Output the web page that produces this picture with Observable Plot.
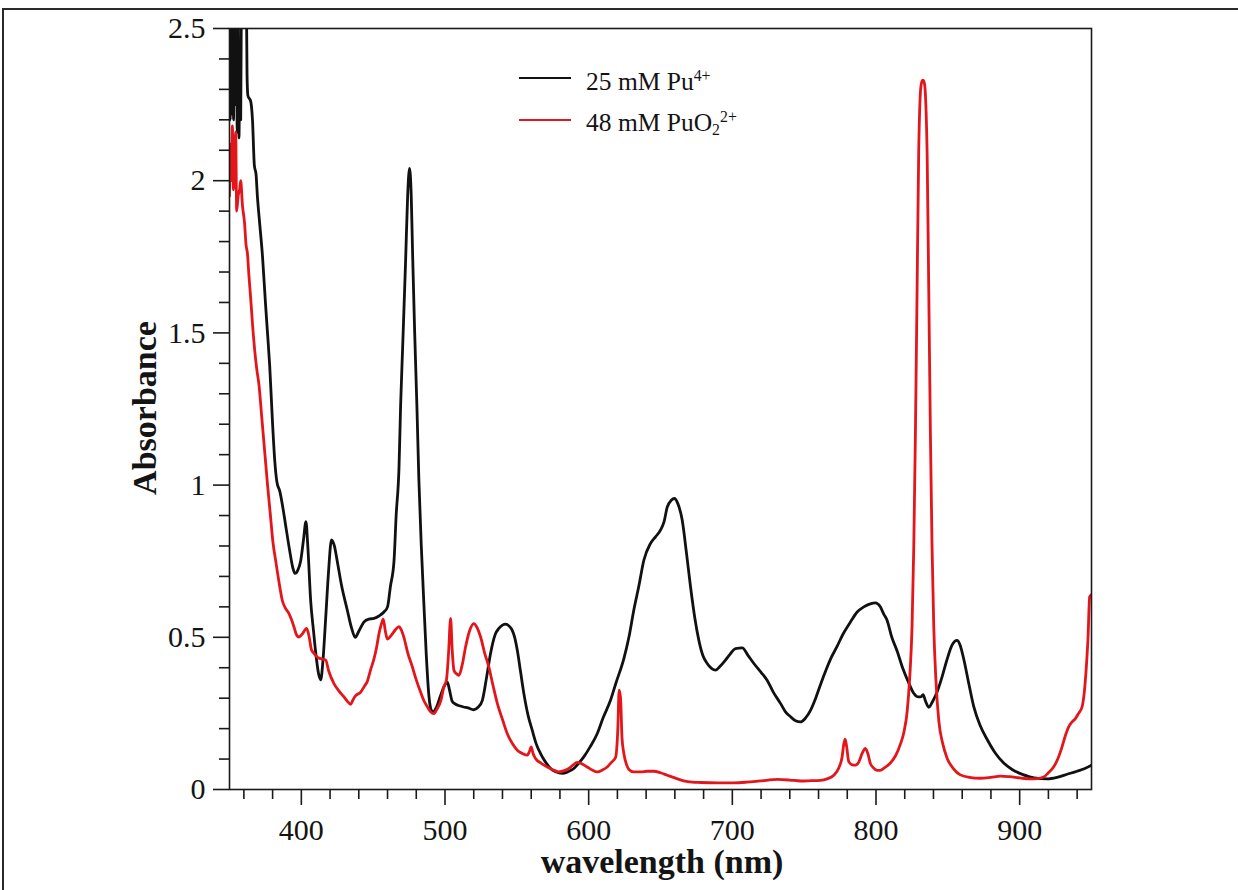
<!DOCTYPE html>
<html>
<head>
<meta charset="utf-8">
<script src="https://cdn.jsdelivr.net/npm/d3@7"></script>
<script src="https://cdn.jsdelivr.net/npm/@observablehq/plot@0.6"></script>
<style>
  html, body { margin: 0; padding: 0; background: #fff; overflow: hidden; }
  #wrap { position: relative; width: 1238px; height: 890px; overflow: hidden; }
  #border { position: absolute; left: 2px; top: 8px; width: 1240px; height: 890px;
            border-top: 2px solid #2a2a2a; border-left: 2px solid #2a2a2a; box-sizing: border-box; }
  #chart { position: absolute; left: 0; top: 0; }
  .serif { font-family: "Liberation Serif", "Times New Roman", serif; color: #141414; }
  .ttl { position: absolute; font-weight: bold; font-size: 34px; line-height: 1; white-space: nowrap; }
  .leg { position: absolute; font-size: 25.5px; line-height: 1; white-space: nowrap; }
  .leg sup { font-size: 0.62em; vertical-align: 0.55em; line-height: 0; }
  .leg sub { font-size: 0.62em; vertical-align: -0.28em; line-height: 0; }
  .sw { position: absolute; height: 2.6px; width: 52px; }
</style>
</head>
<body>
<div id="wrap">
  <div id="border"></div>
  <div id="chart"></div>
</div>
<script>
// ---- data ----
const seriesNames = ["25 mM Pu4+", "48 mM PuO2 2+"];

const puNm = [350,350.5,351,351.6,352.2,352.8,353.3,354,354.6,355.4,356,356.6,357.2,357.8,358.4,360,361.6,362.2,362.8,364.8,366,367.3,368.5,369.4,371,373,375,376.6,378,380,381.5,383,385,387,389,391.7,394,395.5,397.5,399.5,401.5,403.2,404.5,406.5,408.5,410,412,413.5,415,417,419,421,423,425,428,432,435,437.5,440,443.5,447,450.5,454,457.5,460,462,464.5,466,468,469.1,470.5,472.6,474,475.3,476.5,477.5,478.9,480.5,481.8,483.5,485.3,487,488.8,490.5,492,494,497,499.5,501.6,503,505,507.4,510,513,516,520,523,526,529,531.7,535,537.5,540,542.2,545,546.8,548.5,550.3,552.5,554.9,558,560.7,563.5,566.5,570,573.5,577,581.6,585.5,589.7,593,596.6,601,606,610,615.2,619,624.5,628,631.4,635,638.4,643,646.5,650,652.5,654.7,657.5,659.7,662,665.1,668,670.9,674,676.7,679.5,682.5,685.5,688.3,691.5,695.2,698.5,702.2,706.9,711,715,720,724.2,728.5,733.5,737,740.5,744,747.5,751,754.4,758,761.4,765,768.5,772.9,777,782.2,786.9,791.5,796,799.6,803,805.4,807.7,811,814.7,818.5,822.8,826,829.7,831.5,832.8,834.5,836.7,839.5,842.5,846,849.5,853,856.4,858.5,861.1,864.5,868,872.5,877.3,883,888.9,895,902.8,910,919,926,933,940,945,950];
const puAbs = [2.6,2.2,2.65,2.22,2.6,2.2,2.7,2.25,2.6,2.16,2.55,2.14,2.45,2.2,2.7,2.9,2.7,2.35,2.28,2.26,2.2,2.05,2.02,1.95,1.86,1.75,1.6,1.49,1.39,1.2,1.08,1.01,0.98,0.93,0.87,0.79,0.73,0.71,0.72,0.75,0.82,0.88,0.8,0.62,0.52,0.45,0.38,0.36,0.42,0.567,0.72,0.82,0.8,0.75,0.67,0.589,0.53,0.5,0.52,0.55,0.56,0.562,0.57,0.583,0.6,0.667,0.75,0.9,1.06,1.26,1.45,1.74,1.95,2.04,1.95,1.75,1.5,1.25,1.02,0.8,0.61,0.44,0.308,0.26,0.255,0.27,0.31,0.34,0.353,0.33,0.29,0.28,0.275,0.271,0.268,0.262,0.27,0.293,0.37,0.447,0.51,0.529,0.54,0.543,0.535,0.523,0.5,0.458,0.39,0.315,0.24,0.195,0.15,0.118,0.09,0.069,0.058,0.053,0.058,0.069,0.086,0.107,0.14,0.184,0.235,0.293,0.35,0.43,0.5,0.589,0.67,0.753,0.808,0.83,0.852,0.88,0.928,0.95,0.956,0.94,0.885,0.78,0.666,0.56,0.49,0.44,0.414,0.398,0.392,0.405,0.425,0.445,0.463,0.465,0.44,0.414,0.385,0.359,0.32,0.283,0.255,0.239,0.226,0.222,0.235,0.26,0.3,0.345,0.39,0.43,0.47,0.51,0.55,0.583,0.6,0.61,0.613,0.6,0.576,0.556,0.5,0.455,0.4,0.35,0.318,0.304,0.305,0.312,0.29,0.27,0.29,0.32,0.37,0.428,0.475,0.49,0.475,0.428,0.35,0.273,0.21,0.165,0.12,0.087,0.065,0.048,0.038,0.035,0.04,0.05,0.06,0.068,0.08];

const puo2Nm = [350,350.6,351.3,352,352.7,353.5,354.3,355,356,357,357.8,359,360.5,361.5,362.5,363.5,364.8,366,367.6,369,370.5,372.5,374.5,376.4,378.5,380.3,382.1,384.5,386.8,389,391.4,393,394.9,396.5,398.4,400.5,403.7,405.5,407,408.8,411,413.5,417,419,422.7,426,429.7,432,434.3,436,437.8,441.3,444,446,448,450.5,452.5,454,455.5,457,458.5,459.9,461.5,463.3,465.5,468,469.5,471.4,474,477.2,480,483,485.5,487.7,490,492.3,494.5,497,499.2,501,502.5,503.9,505,506.2,508,509.7,512,514.3,517,520.1,522.5,524.8,527.5,530.5,533.5,536.4,540,543.3,547,550.3,554,557.3,558.8,560,561.3,563,567,571.2,575,579.2,583,586.2,589,592,595,599,602.5,606,609.5,612.9,616,618.7,620.3,621.2,622.2,623.2,624.5,626.5,628,631.4,636,641,645.3,650,654.7,660,666.2,672,677.8,690,701,710,719.6,725,731.2,740,747.5,755,761.4,766,770.6,774,776.4,777.6,778.5,779.6,781,783,785.7,788,790.5,792.6,794.5,796.1,798.5,800.8,803,806,810,813.5,817,819.5,821.7,823.5,825.1,826.3,827.4,828.5,829.7,830.7,831.6,832.6,833.7,834.7,835.6,836.7,837.9,839,840.2,841.7,843.7,846.5,849.5,854,858.7,865,872.6,880,886.6,893,900,907,912,916.7,920,923.6,926.5,929.5,932,934.1,936.5,938.8,941,943.4,945,946.4,947.6,948.7,950];
const puo2Abs = [1.95,2.12,2.0,2.18,1.97,2.05,2.16,1.9,1.95,1.97,2.0,1.92,1.86,1.79,1.76,1.69,1.61,1.53,1.44,1.38,1.33,1.22,1.11,1.005,0.9,0.81,0.753,0.68,0.62,0.595,0.578,0.56,0.534,0.51,0.501,0.51,0.529,0.5,0.46,0.447,0.435,0.43,0.425,0.39,0.348,0.325,0.304,0.29,0.28,0.295,0.308,0.32,0.34,0.356,0.39,0.428,0.47,0.511,0.54,0.56,0.52,0.494,0.5,0.511,0.525,0.535,0.525,0.5,0.45,0.404,0.36,0.32,0.29,0.272,0.255,0.249,0.265,0.29,0.337,0.36,0.45,0.562,0.46,0.392,0.38,0.375,0.41,0.468,0.52,0.545,0.53,0.501,0.45,0.403,0.34,0.283,0.23,0.184,0.15,0.129,0.118,0.113,0.125,0.14,0.118,0.102,0.086,0.074,0.065,0.058,0.062,0.069,0.08,0.089,0.085,0.074,0.064,0.058,0.064,0.074,0.09,0.105,0.2,0.326,0.3,0.17,0.118,0.08,0.066,0.058,0.058,0.06,0.06,0.055,0.047,0.038,0.028,0.024,0.023,0.022,0.022,0.024,0.028,0.031,0.033,0.031,0.028,0.029,0.03,0.035,0.047,0.07,0.107,0.15,0.165,0.14,0.092,0.082,0.08,0.09,0.12,0.135,0.115,0.085,0.07,0.063,0.063,0.072,0.087,0.11,0.149,0.19,0.257,0.37,0.536,0.8,1.157,1.6,2.086,2.27,2.32,2.33,2.32,2.25,2.086,1.65,1.157,0.8,0.536,0.36,0.226,0.15,0.103,0.068,0.048,0.04,0.037,0.04,0.044,0.042,0.038,0.035,0.036,0.041,0.055,0.074,0.1,0.14,0.18,0.206,0.222,0.233,0.25,0.271,0.32,0.403,0.5,0.633,0.64];

const xMajorTicks = [400, 500, 600, 700, 800, 900];
const xMinorTicks = [360,380,420,440,460,480,520,540,560,580,620,640,660,680,720,740,760,780,820,840,860,880,920,940];
const yMajorTicks = [0, 0.5, 1, 1.5, 2, 2.5];
const yMinorTicks = [0.1,0.2,0.3,0.4,0.6,0.7,0.8,0.9,1.1,1.2,1.3,1.4,1.6,1.7,1.8,1.9,2.1,2.2,2.3,2.4];
const seriesColors = ["#111111", "#e3161b"];

// ---- build ----
const pu = puNm.map((x, i) => ({nm: x, A: puAbs[i]}));
const puo2 = puo2Nm.map((x, i) => ({nm: x, A: puo2Abs[i]}));

const axisStyle = {stroke: "#1a1a1a", strokeWidth: 1.6, fill: "#141414"};

const chart = Plot.plot({
  width: 1238,
  height: 890,
  marginLeft: 229,
  marginRight: 147,
  marginTop: 28,
  marginBottom: 101,
  style: {fontFamily: '"Liberation Serif", "Times New Roman", serif', fontSize: "30px", background: "transparent", color: "#141414"},
  x: {domain: [350, 950]},
  y: {domain: [0, 2.5]},
  marks: [
    Plot.axisX({ticks: xMinorTicks, tickSize: 10, tickFormat: () => "", label: null, ...axisStyle}),
    Plot.axisX({ticks: xMajorTicks, tickSize: 16, tickPadding: 13, tickFormat: d => String(d), label: null, fontSize: 30, ...axisStyle}),
    Plot.axisY({ticks: yMinorTicks, tickSize: 10, tickFormat: () => "", label: null, ...axisStyle}),
    Plot.axisY({ticks: yMajorTicks, tickSize: 16, tickPadding: 8, tickFormat: d => String(d), label: null, fontSize: 30, ...axisStyle}),
    Plot.line(pu, {x: "nm", y: "A", stroke: seriesColors[0], strokeWidth: 2.8, curve: "monotone-x", clip: true}),
    Plot.line(puo2, {x: "nm", y: "A", stroke: seriesColors[1], strokeWidth: 2.8, curve: "monotone-x", clip: true}),
    Plot.frame({stroke: "#1a1a1a", strokeWidth: 1.6})
  ]
});
document.getElementById("chart").appendChild(chart);

// ---- titles and legend (HTML text) ----
const wrap = document.getElementById("wrap");
function addDiv(cls, css, html) {
  const d = document.createElement("div");
  d.className = cls;
  d.style.cssText = css;
  d.innerHTML = html;
  wrap.appendChild(d);
  return d;
}
addDiv("ttl serif", "left:662px; top:845px; transform:translateX(-50%);", "wavelength (nm)");
addDiv("ttl serif", "left:145px; top:408px; transform:translate(-50%,-50%) rotate(-90deg);", "Absorbance");

addDiv("sw", `left:519px; top:76.5px; background:${seriesColors[0]};`, "");
addDiv("sw", `left:519px; top:118.5px; background:${seriesColors[1]};`, "");
addDiv("leg serif", "left:586px; top:69px;", "25 mM Pu<sup>4+</sup>");
addDiv("leg serif", "left:586px; top:110px;", "48 mM PuO<sub>2</sub><sup>2+</sup>");
</script>
</body>
</html>
